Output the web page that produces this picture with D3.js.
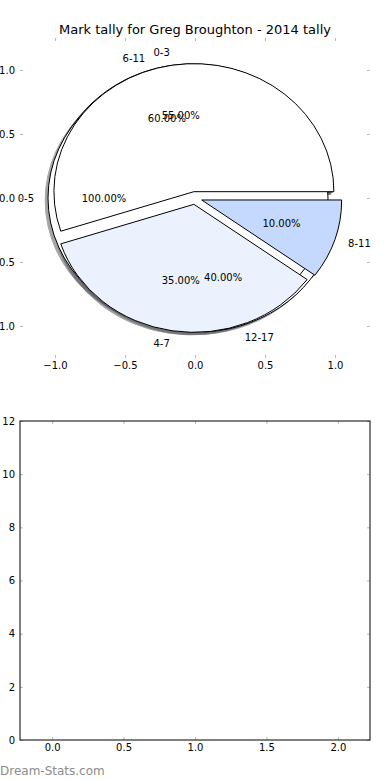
<!DOCTYPE html>
<html>
<head>
<meta charset="utf-8">
<style>
body { margin: 0; background: #fff; }
text { font-family: "DejaVu Sans", sans-serif; }
.tick line { stroke: #b8b8b8; }
</style>
</head>
<body>
<svg width="390" height="780"></svg>
<script src="https://cdn.jsdelivr.net/npm/d3@7"></script>
<script>
// three pies drawn on the same axes, in this order
var allLabels = ["0-5"],
    allValues = [100],
    allColors = ["#ffffff"];

var olderLabels = ["6-11", "12-17"],
    olderValues = [60, 40],
    olderColors = ["#ffffff", "#ffffff"];

var youngLabels = ["0-3", "4-7", "8-11"],
    youngValues = [55, 35, 10],
    youngColors = ["#ffffff", "#ebf2fe", "#c5d8fd"];

var pieTicks = [-1, -0.5, 0, 0.5, 1];
var emptyTicksX = [0, 0.5, 1, 1.5, 2],
    emptyTicksY = [0, 2, 4, 6, 8, 10, 12];

var title = "Mark tally for Greg Broughton - 2014 tally";

var svg = d3.select("svg");
svg.append("rect").attr("width", 390).attr("height", 780).attr("fill", "#fff");

var px = d3.scaleLinear().domain([-1.25, 1.25]).range([20, 370]),
    py = d3.scaleLinear().domain([-1.25, 1.25]).range([358, 38]);

var sx = px(1) - px(0), sy = py(0) - py(1);

var shadowLayer = svg.append("g"),
    wedgeLayer = svg.append("g"),
    textLayer = svg.append("g").attr("font-size", 10);

var arc = d3.arc().innerRadius(0).outerRadius(1);
var pct = d3.format(".2f");

function drawPie(values, labels, colors) {
  var total = d3.sum(values);
  var arcs = d3.pie().sort(null)
      .startAngle(Math.PI / 2)
      .endAngle(Math.PI / 2 - 2 * Math.PI)(values);

  arcs.forEach(function(a, i) {
    var mid = (a.startAngle + a.endAngle) / 2;
    var cx = 0.05 * Math.sin(mid), cy = 0.05 * Math.cos(mid);
    var c = d3.rgb(colors[i]);
    var sc = d3.rgb(c.r * 0.3, c.g * 0.3, c.b * 0.3);

    shadowLayer.append("path")
        .attr("d", arc(a))
        .attr("transform", "translate(" + px(cx - 0.02) + "," + py(cy - 0.02) + ") scale(" + sx + "," + sy + ")")
        .attr("fill", sc)
        .attr("stroke", sc)
        .attr("vector-effect", "non-scaling-stroke")
        .attr("opacity", 0.5);

    wedgeLayer.append("path")
        .attr("d", arc(a))
        .attr("transform", "translate(" + px(cx) + "," + py(cy) + ") scale(" + sx + "," + sy + ")")
        .attr("fill", colors[i])
        .attr("stroke", "#000")
        .attr("stroke-width", 1)
        .attr("vector-effect", "non-scaling-stroke");

    var lx = cx + 1.1 * Math.sin(mid), ly = cy + 1.1 * Math.cos(mid);
    textLayer.append("text")
        .attr("x", px(lx)).attr("y", py(ly)).attr("dy", "0.35em")
        .attr("text-anchor", lx > 0 ? "start" : "end")
        .text(labels[i]);

    textLayer.append("text")
        .attr("x", px(cx + 0.6 * Math.sin(mid))).attr("y", py(cy + 0.6 * Math.cos(mid)))
        .attr("dy", "0.35em")
        .attr("text-anchor", "middle")
        .text(pct(a.value / total * 100) + "%");
  });
}

drawPie(olderValues, olderLabels, olderColors);
drawPie(allValues, allLabels, allColors);
drawPie(youngValues, youngLabels, youngColors);

svg.append("text")
    .attr("x", 195).attr("y", 34)
    .attr("text-anchor", "middle")
    .attr("font-size", 13)
    .text(title);

function styleAxis(g) {
  g.attr("font-family", "DejaVu Sans").attr("font-size", 10);
  g.select(".domain").remove();
  g.selectAll("text").attr("fill", "#000");
}

var fmt1 = d3.format(".1f");

svg.append("g").attr("transform", "translate(0,358)")
    .call(d3.axisBottom(px).tickValues(pieTicks).tickFormat(fmt1).tickSize(-3).tickPadding(4))
    .call(styleAxis);
svg.append("g").attr("transform", "translate(0,38)")
    .call(d3.axisTop(px).tickValues(pieTicks).tickFormat("").tickSize(-3))
    .call(styleAxis);
svg.append("g").attr("transform", "translate(20,0)")
    .call(d3.axisLeft(py).tickValues(pieTicks).tickFormat(fmt1).tickSize(-3).tickPadding(5))
    .call(styleAxis);
svg.append("g").attr("transform", "translate(370,0)")
    .call(d3.axisRight(py).tickValues(pieTicks).tickFormat("").tickSize(-3))
    .call(styleAxis);

// empty lower axes
var bx = d3.scaleLinear().domain([-0.225, 2.225]).range([20, 370]),
    by = d3.scaleLinear().domain([0, 12]).range([740, 421]);

svg.append("g").attr("transform", "translate(0,740)")
    .call(d3.axisBottom(bx).tickValues(emptyTicksX).tickFormat(fmt1).tickSize(-3).tickPadding(4))
    .call(styleAxis);
svg.append("g").attr("transform", "translate(0,421)")
    .call(d3.axisTop(bx).tickValues(emptyTicksX).tickFormat("").tickSize(-3))
    .call(styleAxis);
svg.append("g").attr("transform", "translate(20,0)")
    .call(d3.axisLeft(by).tickValues(emptyTicksY).tickFormat(d3.format("d")).tickSize(-3).tickPadding(5))
    .call(styleAxis);
svg.append("g").attr("transform", "translate(370,0)")
    .call(d3.axisRight(by).tickValues(emptyTicksY).tickFormat("").tickSize(-3))
    .call(styleAxis);

svg.append("rect")
    .attr("x", bx.range()[0]).attr("y", by.range()[1])
    .attr("width", bx.range()[1] - bx.range()[0])
    .attr("height", by.range()[0] - by.range()[1])
    .attr("fill", "none")
    .attr("stroke", "#000")
    .attr("stroke-width", 1);

svg.append("text")
    .attr("x", 0).attr("y", 775)
    .attr("font-size", 12)
    .attr("fill", "#8c8c8c")
    .text("Dream-Stats.com");
</script>
</body>
</html>
